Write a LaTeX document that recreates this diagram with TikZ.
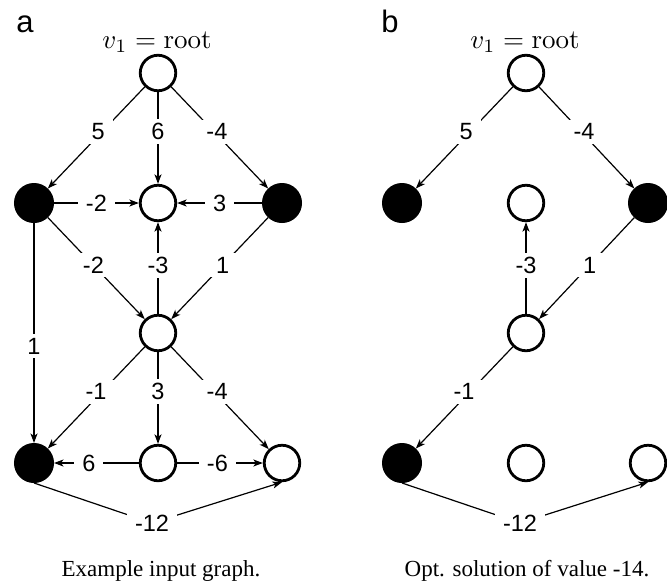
\documentclass[tikz,border=0pt]{standalone}
\usepackage{fontspec}
\newfontfamily\lblfont{Liberation Sans}
\newfontfamily\capfont{Liberation Serif}
\usetikzlibrary{arrows.meta}
\begin{document}
\begin{tikzpicture}[x=1pt,y=-1pt,
  wn/.style={circle,draw,line width=2.8pt,minimum size=35.5pt,inner sep=0pt},
  bn/.style={circle,draw,fill=black,line width=1pt,minimum size=39pt,inner sep=0pt},
  edge/.style={line width=1.2pt,-{Stealth[length=9.5pt,width=7pt,inset=2.5pt]}},
  lbl/.style={fill=white,inner xsep=8pt,inner ysep=4pt,font=\lblfont\fontsize{23.5}{28}\selectfont},
  panel/.style={anchor=base,font=\lblfont\fontsize{31}{36}\selectfont},
  rootlbl/.style={anchor=base,scale=2.7},
  captext/.style={anchor=base,font=\capfont\fontsize{23}{27}\selectfont}]
\useasboundingbox (0,0) rectangle (667,582);

% ---------- panel a ----------
\node[panel] (pa) at (25,32) {a};
\node[rootlbl] (ra) at (157,48) {$v_1 = \mathrm{root}$};
\node[wn] (aR)  at (158,73) {};
\node[bn] (aL)  at (34,203) {};
\node[wn] (aC)  at (158,203) {};
\node[bn] (aRt) at (282,203) {};
\node[wn] (aM)  at (158,333) {};
\node[bn] (aBL) at (34,463) {};
\node[wn] (aBC) at (158,463) {};
\node[wn] (aBR) at (282,463) {};

\draw[edge] (aR) -- node[lbl,pos=0.44,xshift=-4pt]{5} (aL);
\draw[edge] (aR) -- node[lbl,pos=0.43]{6} (aC);
\draw[edge] (aR) -- node[lbl,pos=0.44,xshift=3pt]{-4} (aRt);
\draw[edge] (aL) -- node[lbl]{-2} (aC);
\draw[edge] (aRt) -- node[lbl]{3} (aC);
\draw[edge] (aL) -- node[lbl,pos=0.47]{-2} (aM);
\draw[edge] (aM) -- node[lbl,pos=0.53]{-3} (aC);
\draw[edge] (aRt) -- node[lbl,pos=0.47]{1} (aM);
\draw[edge] (aL) -- node[lbl,pos=0.56]{1} (aBL);
\draw[edge] (aM) -- node[lbl,pos=0.44,xshift=-6pt]{-1} (aBL);
\draw[edge] (aM) -- node[lbl,pos=0.43]{3} (aBC);
\draw[edge] (aM) -- node[lbl,pos=0.44,xshift=3pt]{-4} (aBR);
\draw[edge] (aBC) -- node[lbl,pos=0.59]{6} (aBL);
\draw[edge] (aBC) -- node[lbl,pos=0.47]{-6} (aBR);
\coordinate (ak) at (152,523);
\draw[edge] (aBL.south) -- (ak) -- (aBR.south);
\node[lbl] (akl) at (ak) {-12};
\node[captext] (capa) at (161,576) {Example input graph.};

% ---------- panel b ----------
\node[panel] (pb) at (390,32) {b};
\node[rootlbl] (rb) at (525,48) {$v_1 = \mathrm{root}$};
\node[wn] (bR)  at (526,73) {};
\node[bn] (bL)  at (402,203) {};
\node[wn] (bC)  at (526,203) {};
\node[bn] (bRt) at (648,203) {};
\node[wn] (bM)  at (526,333) {};
\node[bn] (bBL) at (402,463) {};
\node[wn] (bBC) at (526,463) {};
\node[wn] (bBR) at (648,463) {};

\draw[edge] (bR) -- node[lbl,pos=0.44,xshift=-4pt]{5} (bL);
\draw[edge] (bR) -- node[lbl,pos=0.44,xshift=3pt]{-4} (bRt);
\draw[edge] (bM) -- node[lbl,pos=0.53]{-3} (bC);
\draw[edge] (bRt) -- node[lbl,pos=0.47]{1} (bM);
\draw[edge] (bM) -- node[lbl,pos=0.44,xshift=-6pt]{-1} (bBL);
\coordinate (bk) at (520,523);
\draw[edge] (bBL.south) -- (bk) -- (bBR.south);
\node[lbl] (bkl) at (bk) {-12};
\node[captext] (capb) at (527,576) {Opt. solution of value -14.};
\end{tikzpicture}
\end{document}
